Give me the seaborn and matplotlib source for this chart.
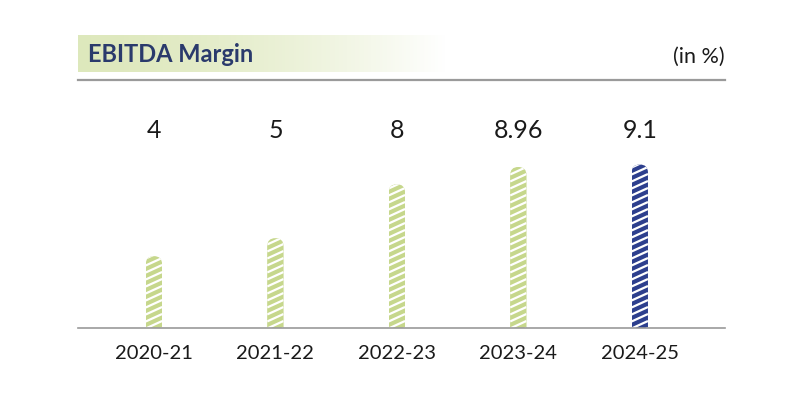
import numpy as np
import pandas as pd
import matplotlib
matplotlib.use('Agg')
import matplotlib.pyplot as plt
import seaborn as sns
from matplotlib.patches import FancyBboxPatch
from matplotlib.collections import LineCollection

sns.set_style('white')
plt.rcParams['font.family'] = ['Lato', 'DejaVu Sans']

# data
years = ['2020-21', '2021-22', '2022-23', '2023-24', '2024-25']
margin = [4, 5, 8, 8.96, 9.1]
labels = ['4', '5', '8', '8.96', '9.1']
green = '#c6d78c'
navy = '#2d3f8e'
colors = [green, green, green, green, navy]

df = pd.DataFrame({'year': years, 'margin': margin})

fig = plt.figure(figsize=(8, 4), dpi=100)
ax = fig.add_axes([0.0975, 0.18, 0.8085, 0.62])

sns.barplot(data=df, x='year', y='margin', hue='year', palette=colors,
            width=0.135, legend=False, ax=ax, saturation=1)

ax.set_xlim(-0.625, 4.7)
ax.set_ylim(0, 13.8)

# rounded tops + white diagonal stripes
px_x = ax.bbox.width / 5.325     # pixels per x unit
px_y = ax.bbox.height / 13.8     # pixels per y unit
aspect = px_x / px_y
step = 7.0 / px_y                # stripe spacing
rise = 7.5 / px_y                # stripe rise across the bar
for bar in ax.patches:
    x0 = bar.get_x()
    w = bar.get_width()
    h = bar.get_height()
    bar.set_linewidth(0)
    clip = FancyBboxPatch((x0, -2), w, h + 2,
                          boxstyle='round,pad=0,rounding_size=%f' % (w / 2),
                          mutation_aspect=aspect, transform=ax.transData,
                          facecolor='none', edgecolor='none')
    bar.set_clip_path(clip)
    segs = [[(x0, y), (x0 + w, y + rise)] for y in np.arange(-rise, h + step, step)]
    lc = LineCollection(segs, colors='white', linewidths=1.6, transform=ax.transData)
    ax.add_collection(lc)
    lc.set_clip_path(clip)

for i, t in enumerate(labels):
    ax.text(i, 11.0, t, ha='center', va='center', fontsize=18, color='#1a1a1a')

ax.set_xlabel('')
ax.set_ylabel('')
ax.set_yticks([])
ax.tick_params(axis='x', length=0, labelsize=14.5, labelcolor='#1a1a1a', pad=12)
for s in ['left', 'right']:
    ax.spines[s].set_visible(False)
ax.spines['top'].set_color('#9a9a9a')
ax.spines['top'].set_linewidth(1.6)
ax.spines['bottom'].set_color('#9a9a9a')
ax.spines['bottom'].set_linewidth(1.2)

# header band with gradient
hax = fig.add_axes([0.0975, 0.82, 0.46, 0.093])
grad = np.linspace(0, 1, 256)
base = np.array([0.87, 0.91, 0.74])
fade = grad[:, None] ** 1.6
img = base[None, :] * (1 - fade) + fade
hax.imshow(img[None, :, :], aspect='auto', extent=[0, 1, 0, 1])
hax.axis('off')
fig.text(0.11, 0.865, 'EBITDA Margin', fontsize=17, fontweight='bold',
         color='#2a3a6c', va='center', ha='left')
fig.text(0.906, 0.857, '(in %)', fontsize=15.5, color='#1a1a1a', va='center', ha='right')

fig.savefig('out.png', dpi=100)
